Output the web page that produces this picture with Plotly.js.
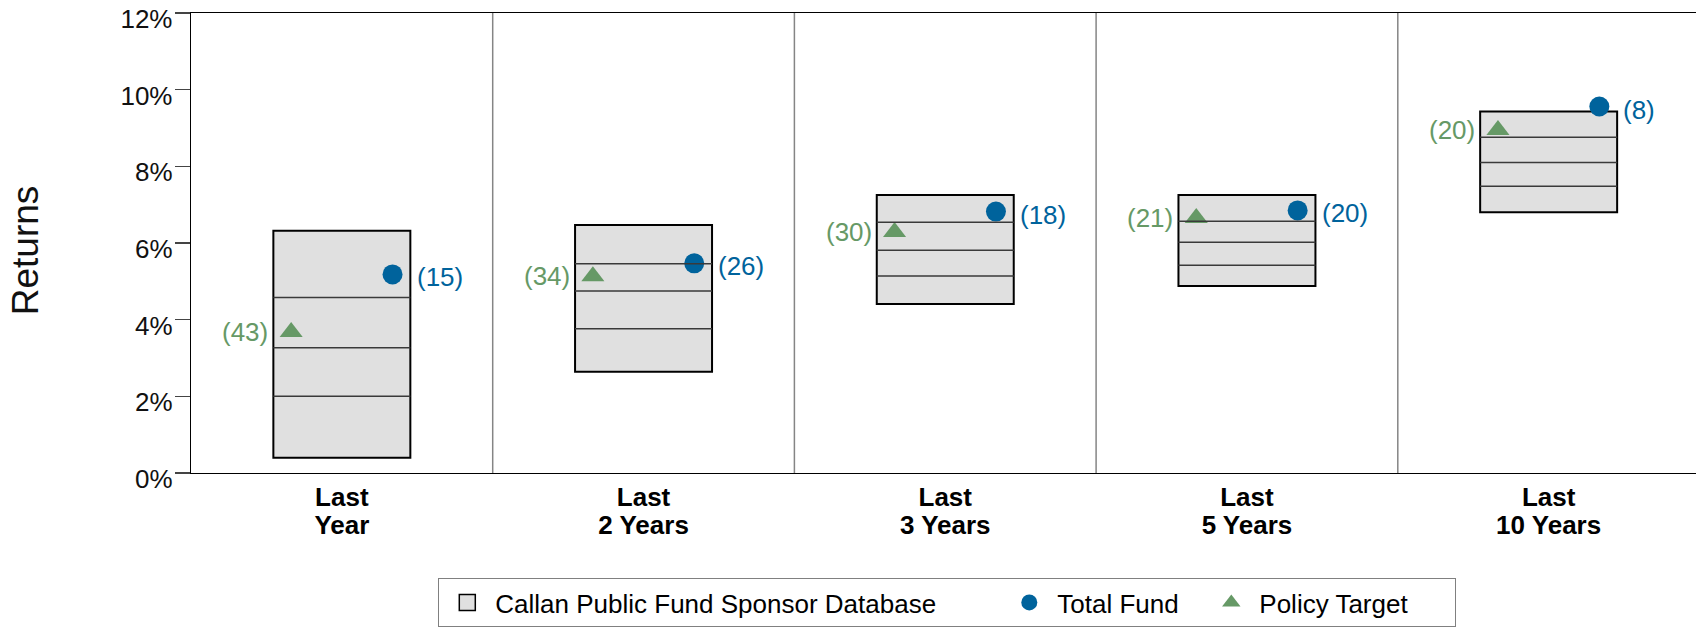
<!DOCTYPE html>
<html>
<head>
<meta charset="utf-8">
<script src="https://cdn.plot.ly/plotly-3.0.1.min.js"></script>
<style>
  html, body { margin: 0; padding: 0; overflow: hidden; background: #fff; }
  #chart { width: 1696px; height: 628px; }
</style>
</head>
<body>
<div id="chart"></div>
<script>
// ---- data (returns in %) ----
const tickLine1 = ['Last', 'Last', 'Last', 'Last', 'Last'];
const tickLine2 = ['Year', '2 Years', '3 Years', '5 Years', '10 Years'];
const pct10 = [6.32, 6.47, 7.25, 7.25, 9.43];   // top of box
const pct25 = [4.58, 5.46, 6.54, 6.57, 8.76];
const pct50 = [3.27, 4.75, 5.81, 6.02, 8.10];
const pct75 = [2.00, 3.76, 5.14, 5.42, 7.48];
const pct90 = [0.40, 2.64, 4.41, 4.88, 6.80];   // bottom of box
const totalFund = [5.18, 5.47, 6.82, 6.85, 9.56];
const totalFundRank = [15, 26, 18, 20, 8];
const policyTarget = [3.68, 5.13, 6.29, 6.65, 8.95];
const policyTargetRank = [43, 34, 30, 21, 20];
const yTickVals = [0, 2, 4, 6, 8, 10, 12];
const yTickText = yTickVals.map(v => v + '%');

// ---- styling ----
const FONT = 'Liberation Sans, Arial, sans-serif';
const BLUE = '#00639c';
const GREEN = '#669966';
const BOX_W = 0.454;
const MARK_OFF = 0.168;
const XRANGE = [-0.5, -0.5 + 1505 / 301.7];

const idx = tickLine1.map((_, i) => i);

// legend key for the database boxes (draws nothing on the plot)
const boxKey = {
  type: 'scatter', mode: 'markers', name: 'Callan Public Fund Sponsor Database',
  x: [null], y: [null],
  marker: { symbol: 'square', size: 30, color: '#e0e0e0', line: { color: '#000', width: 1.5 } },
  hoverinfo: 'skip', legendwidth: 501
};
const boxTrace = {
  type: 'bar', name: 'Callan Public Fund Sponsor Database',
  x: idx, base: pct90, y: pct10.map((v, i) => v - pct90[i]),
  width: BOX_W,
  marker: { color: '#e0e0e0', line: { color: '#000', width: 2 } },
  hoverinfo: 'skip', showlegend: false
};

const lx = [], ly = [];
[pct25, pct50, pct75].forEach(arr => {
  arr.forEach((v, i) => { lx.push(i - BOX_W / 2, i + BOX_W / 2, null); ly.push(v, v, null); });
});
const lineTrace = {
  type: 'scatter', mode: 'lines', x: lx, y: ly, xaxis: 'x2', yaxis: 'y',
  line: { color: '#3a3a3a', width: 1.5 }, showlegend: false, hoverinfo: 'skip'
};

const fundTrace = {
  type: 'scatter', mode: 'markers', name: 'Total Fund',
  x: idx.map(i => i + MARK_OFF), y: totalFund,
  marker: { symbol: 'circle', size: 20, color: BLUE },
  hoverinfo: 'skip', legendwidth: 141
};
const policyTrace = {
  type: 'scatter', mode: 'markers', name: 'Policy Target',
  x: idx.map(i => i - MARK_OFF), y: policyTarget,
  marker: { symbol: 'triangle-up', size: 20, color: GREEN },
  hoverinfo: 'skip', legendwidth: 191
};

const annotations = [];
totalFund.forEach((v, i) => annotations.push({
  x: i + MARK_OFF, y: v, xref: 'x', yref: 'y', text: '(' + totalFundRank[i] + ')',
  showarrow: false, xanchor: 'left', yanchor: 'middle', xshift: 22, yshift: -3,
  font: { family: FONT, size: 26, color: BLUE }
}));
policyTarget.forEach((v, i) => annotations.push({
  x: i - MARK_OFF, y: v, xref: 'x', yref: 'y', text: '(' + policyTargetRank[i] + ')',
  showarrow: false, xanchor: 'right', yanchor: 'middle', xshift: -21, yshift: 0,
  font: { family: FONT, size: 26, color: GREEN }
}));
annotations.push({
  xref: 'paper', yref: 'paper', x: -0.1094, y: 0.485, text: 'Returns', textangle: -90,
  showarrow: false, xanchor: 'center', yanchor: 'middle',
  font: { family: FONT, size: 37, color: '#111' }
});

const shapes = idx.slice(1).map(i => ({
  type: 'line', xref: 'x', yref: 'paper', x0: i - 0.5, x1: i - 0.5, y0: 0, y1: 1,
  line: { color: '#858585', width: 1.5 }, layer: 'below'
}));

const tickFontX = { family: FONT, size: 26, color: '#000', weight: 'bold' };

const layout = {
  width: 1696, height: 628,
  margin: { l: 191, r: 0, t: 13, b: 155, autoexpand: false },
  paper_bgcolor: '#fff', plot_bgcolor: '#fff',
  font: { family: FONT, size: 26, color: '#000' },
  showlegend: true,
  xaxis: {
    range: XRANGE,
    tickmode: 'array', tickvals: idx, ticktext: tickLine1,
    tickfont: tickFontX,
    showline: true, linecolor: '#000', linewidth: 1.3, mirror: true,
    ticks: '', showgrid: false, zeroline: false, fixedrange: true
  },
  xaxis2: {
    overlaying: 'x', anchor: 'y', side: 'bottom',
    range: XRANGE,
    tickmode: 'array', tickvals: idx, ticktext: tickLine2,
    tickfont: tickFontX, ticklabelstandoff: 34,
    showline: false, ticks: '', showgrid: false, zeroline: false, fixedrange: true
  },
  yaxis: {
    range: [0, 12], tickmode: 'array', tickvals: yTickVals, ticktext: yTickText,
    tickfont: { family: FONT, size: 26, color: '#111' },
    ticks: 'outside', ticklen: 15, tickwidth: 1.3, tickcolor: '#444',
    ticklabelshift: 6, ticklabelstandoff: -3,
    showline: true, linecolor: '#000', linewidth: 1.3,
    showgrid: false, zeroline: false, fixedrange: true
  },
  legend: {
    orientation: 'h', x: (438.3 - 191) / 1505, xanchor: 'left',
    y: (473 - 578) / 460, yanchor: 'top',
    bordercolor: '#808080', borderwidth: 1, bgcolor: '#fff',
    font: { family: FONT, size: 26, color: '#000' },
    itemwidth: 46, traceorder: 'normal'
  },
  annotations: annotations,
  shapes: shapes
};

Plotly.newPlot('chart', [boxKey, boxTrace, lineTrace, fundTrace, policyTrace], layout,
  { displayModeBar: false, staticPlot: true });
</script>
</body>
</html>
